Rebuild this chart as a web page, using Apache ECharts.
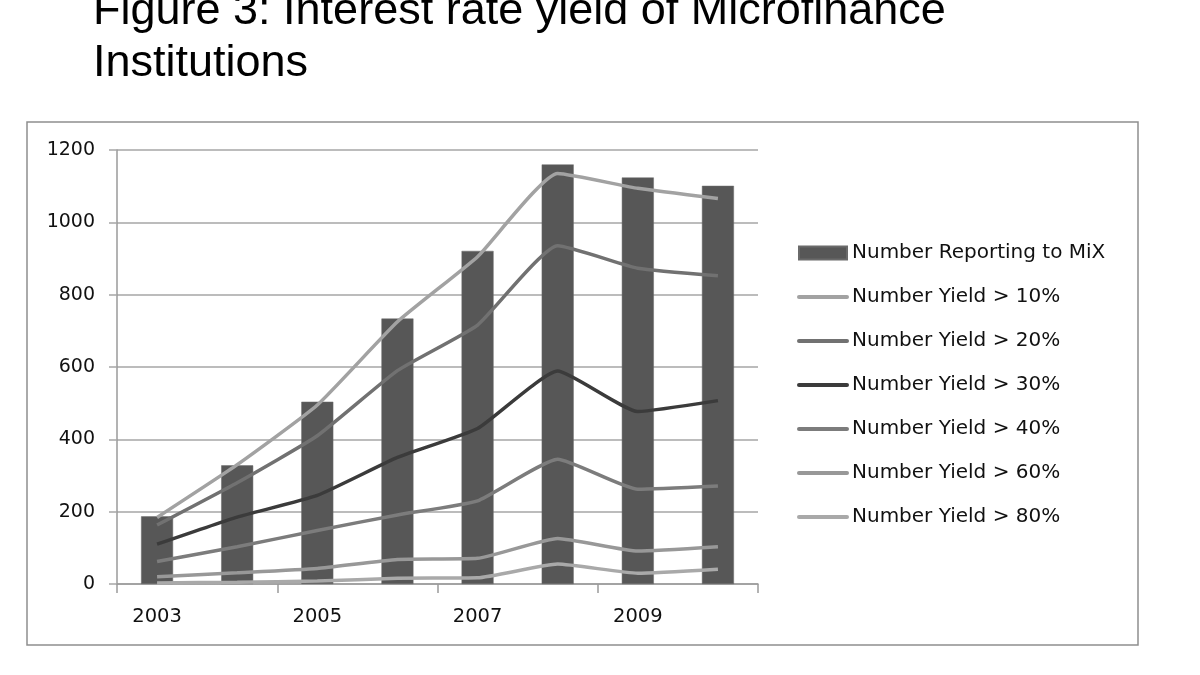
<!DOCTYPE html>
<html>
<head>
<meta charset="utf-8">
<script src="https://cdn.jsdelivr.net/npm/echarts@6/dist/echarts.min.js"></script>
<style>
html,body{margin:0;padding:0;background:#fff;}
#chart{width:1200px;height:675px;}
</style>
</head>
<body>
<div id="chart"></div>
<script>
var years = ['2003','2004','2005','2006','2007','2008','2009','2010'];
var numberReporting = [187, 328, 504, 734, 921, 1160, 1124, 1101];
var yield10 = [184, 330, 495, 725, 905, 1135, 1094, 1066];
var yield20 = [163, 280, 410, 590, 716, 935, 873, 852];
var yield30 = [110, 185, 245, 350, 430, 589, 477, 507];
var yield40 = [62, 103, 148, 191, 230, 345, 262, 271];
var yield60 = [20, 31, 43, 68, 71, 126, 91, 103];
var yield80 = [3, 5, 8, 16, 17, 55, 30, 41];
var yTicks = [0, 200, 400, 600, 800, 1000, 1200];

var lineDefs = [
  {name: 'Number Yield > 10%', data: yield10, color: '#a2a2a2'},
  {name: 'Number Yield > 20%', data: yield20, color: '#717171'},
  {name: 'Number Yield > 30%', data: yield30, color: '#3b3b3b'},
  {name: 'Number Yield > 40%', data: yield40, color: '#7c7c7c'},
  {name: 'Number Yield > 60%', data: yield60, color: '#989898'},
  {name: 'Number Yield > 80%', data: yield80, color: '#a9a9a9'}
];

var chart = echarts.init(document.getElementById('chart'), null, {renderer: 'canvas'});

var series = [{
  name: 'Number Reporting to MiX',
  type: 'bar',
  data: numberReporting,
  barWidth: 32,
  itemStyle: {color: '#575757', borderColor: '#6a6a6a', borderWidth: 0.5},
  z: 1
}];
lineDefs.forEach(function (d, i) {
  series.push({
    name: d.name,
    type: 'line',
    data: d.data,
    symbol: 'none',
    smooth: 0.15,
    lineStyle: {color: d.color, width: 3.5},
    itemStyle: {color: d.color},
    z: 3 + i
  });
});

var legendData = [{name: 'Number Reporting to MiX', icon: 'rect'}].concat(lineDefs.map(function (d) {
  return {name: d.name, itemStyle: {opacity: 0}, lineStyle: {width: 4, color: d.color, cap: 'round'}};
}));

chart.setOption({
  animation: false,
  backgroundColor: '#ffffff',
  graphic: [
    {type: 'text', left: 93, top: -11, silent: true,
     style: {text: 'Figure 3: Interest rate yield of Microfinance', font: '45px "Liberation Sans", Arial, sans-serif', fill: '#000'}},
    {type: 'text', left: 93, top: 41, silent: true,
     style: {text: 'Institutions', font: '45px "Liberation Sans", Arial, sans-serif', fill: '#000'}},
    {type: 'rect', silent: true, z: -1,
     shape: {x: 27, y: 122, width: 1111, height: 523},
     style: {fill: 'none', stroke: '#8e8e8e', lineWidth: 1.5}}
  ],
  grid: {left: 117, right: 442, top: 150, bottom: 91, containLabel: false},
  legend: {
    orient: 'vertical',
    left: 797,
    top: 243,
    padding: 0,
    itemWidth: 48,
    itemHeight: 13,
    itemGap: 24,
    textStyle: {fontFamily: '"DejaVu Sans", sans-serif', fontSize: 20, color: '#111', lineHeight: 20},
    data: legendData
  },
  xAxis: {
    type: 'category',
    data: years,
    boundaryGap: true,
    axisLine: {show: true, lineStyle: {color: '#9a9a9a', width: 1.5}},
    axisTick: {show: true, interval: 1, length: 9, lineStyle: {color: '#9a9a9a', width: 1.5}},
    axisLabel: {interval: 1, margin: 23, fontFamily: '"DejaVu Sans", sans-serif', fontSize: 19.5, color: '#111'},
    splitLine: {show: false}
  },
  yAxis: {
    type: 'value',
    min: yTicks[0],
    max: yTicks[yTicks.length - 1],
    interval: 200,
    axisLine: {show: true, lineStyle: {color: '#9a9a9a', width: 1.5}},
    axisTick: {show: true, length: 8, lineStyle: {color: '#a6a6a6', width: 1.5}},
    axisLabel: {margin: 22, fontFamily: '"DejaVu Sans", sans-serif', fontSize: 19, color: '#111',
      formatter: function (v) { return String(v); }},
    splitLine: {show: true, lineStyle: {color: '#a6a6a6', width: 1.5}}
  },
  series: series
});
</script>
</body>
</html>
